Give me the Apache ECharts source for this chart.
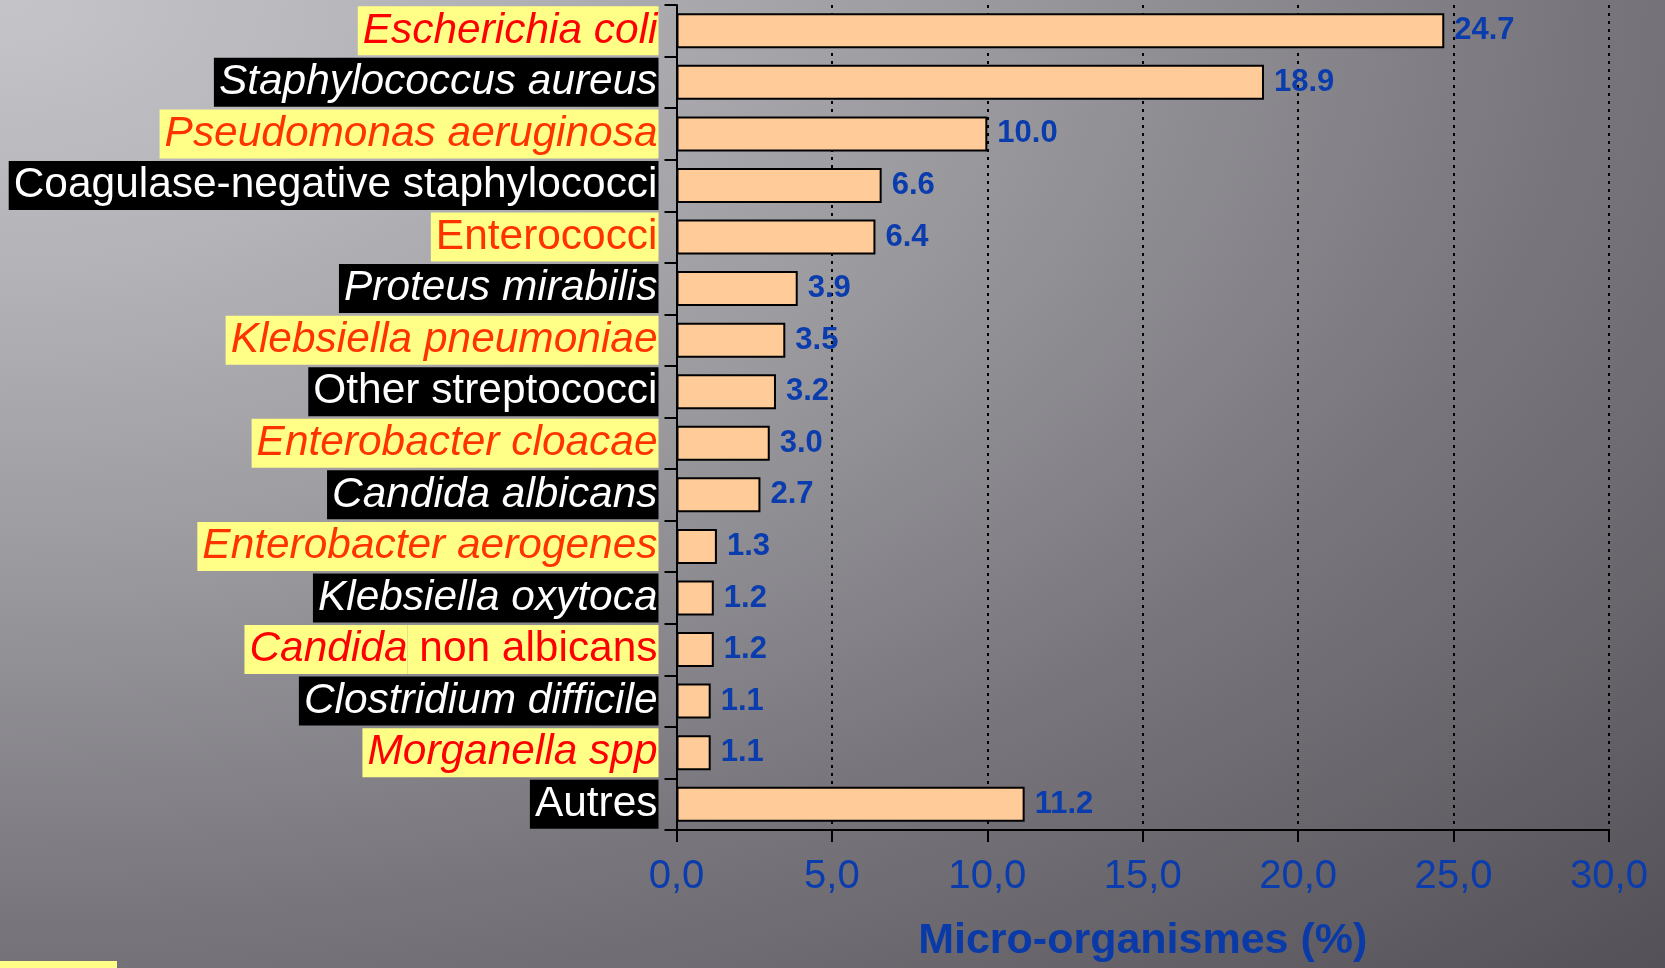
<!DOCTYPE html>
<html>
<head>
<meta charset="utf-8">
<script src="https://cdn.jsdelivr.net/npm/echarts@6/dist/echarts.min.js"></script>
<style>
html,body{margin:0;padding:0;width:1665px;height:968px;overflow:hidden;}
#chart{width:1665px;height:968px;}
</style>
</head>
<body>
<div id="chart"></div>
<script>
// ---------- data ----------
const categories = [
  'Escherichia coli',
  'Staphylococcus aureus',
  'Pseudomonas aeruginosa',
  'Coagulase-negative staphylococci',
  'Enterococci',
  'Proteus mirabilis',
  'Klebsiella pneumoniae',
  'Other streptococci',
  'Enterobacter cloacae',
  'Candida albicans',
  'Enterobacter aerogenes',
  'Klebsiella oxytoca',
  'Candida non albicans',
  'Clostridium difficile',
  'Morganella spp',
  'Autres'
];
const values = [24.7, 18.9, 10.0, 6.6, 6.4, 3.9, 3.5, 3.2, 3.0, 2.7, 1.3, 1.2, 1.2, 1.1, 1.1, 11.2];
const xTickLabels = ['0,0', '5,0', '10,0', '15,0', '20,0', '25,0', '30,0'];
const xAxisTitle = 'Micro-organismes (%)';

// ---------- label styling (kept apart from the data) ----------
const labelRich = {
  'Escherichia coli': [['yri', 'Escherichia coli']],
  'Staphylococcus aureus': [['bi', 'Staphylococcus aureus']],
  'Pseudomonas aeruginosa': [['yoi', 'Pseudomonas aeruginosa']],
  'Coagulase-negative staphylococci': [['bn', 'Coagulase-negative staphylococci']],
  'Enterococci': [['yon', 'Enterococci']],
  'Proteus mirabilis': [['bi', 'Proteus mirabilis']],
  'Klebsiella pneumoniae': [['yoi', 'Klebsiella pneumoniae']],
  'Other streptococci': [['bn', 'Other streptococci']],
  'Enterobacter cloacae': [['yoi', 'Enterobacter cloacae']],
  'Candida albicans': [['bi', 'Candida albicans']],
  'Enterobacter aerogenes': [['yoi', 'Enterobacter aerogenes']],
  'Klebsiella oxytoca': [['bi', 'Klebsiella oxytoca']],
  'Candida non albicans': [['yriL', 'Candida'], ['yrnR', ' non albicans']],
  'Clostridium difficile': [['bi', 'Clostridium difficile']],
  'Morganella spp': [['yri', 'Morganella spp']],
  'Autres': [['bn', 'Autres']]
};

const FAMILY = '"Liberation Sans", Arial, sans-serif';
const cvs = document.createElement('canvas');
const ctx = cvs.getContext('2d');
function fit(text, style, weight, target) {
  ctx.font = style + ' ' + weight + ' 100px ' + FAMILY;
  return 100 * target / ctx.measureText(text).width;
}
const catFont = fit('Coagulase-negative staphylococci', 'normal', 'normal', 644);
const tickFont = fit('10,0', 'normal', 'normal', 78);

const YEL = '#FFFF88', RED = '#FF0000', ORA = '#FF3300';
const boxH = 49;
function rs(bg, color, italic, pad) {
  return {
    backgroundColor: bg, color: color, fontStyle: italic ? 'italic' : 'normal',
    fontFamily: FAMILY, fontSize: catFont, height: boxH, lineHeight: boxH,
    padding: pad, verticalAlign: 'middle'
  };
}
const rich = {
  yri: rs(YEL, RED, true, [0, 1, 0, 5]),
  yoi: rs(YEL, ORA, true, [0, 1, 0, 5]),
  yon: rs(YEL, ORA, false, [0, 1, 0, 5]),
  bi: rs('#000', '#FFFFFF', true, [0, 1, 0, 5]),
  bn: rs('#000', '#FFFFFF', false, [0, 1, 0, 5]),
  yriL: rs(YEL, RED, true, [0, 0, 0, 5]),
  yrnR: rs(YEL, RED, false, [0, 1, 0, 0])
};

const W = 1665, H = 968;
const chart = echarts.init(document.getElementById('chart'), null, {renderer: 'canvas'});
const option = {
  backgroundColor: '#8a898e',
  animation: false,
  grid: {left: 676.5, right: 56, top: 5, bottom: 134, containLabel: false},
  xAxis: {
    type: 'value', min: 0, max: 30, interval: 5,
    axisLine: {show: true, lineStyle: {color: '#000', width: 2}},
    axisTick: {show: true, length: 12, lineStyle: {color: '#000', width: 2}},
    axisLabel: {
      margin: 27, color: '#0B3CAD', fontFamily: FAMILY, fontSize: tickFont,
      formatter: function (v) { return xTickLabels[Math.round(v / 5)]; }
    },
    splitLine: {show: true, lineStyle: {color: '#000', width: 2, type: [3, 5]}},
    name: xAxisTitle, nameLocation: 'middle', nameGap: 90,
    nameTextStyle: {color: '#0A3AA8', fontFamily: FAMILY, fontWeight: 'bold', fontSize: 43}
  },
  yAxis: {
    type: 'category', data: categories, inverse: true,
    axisLine: {show: true, lineStyle: {color: '#000', width: 2}},
    axisTick: {show: true, length: 12, lineStyle: {color: '#000', width: 2}},
    axisLabel: {
      margin: 18, interval: 0,
      formatter: function (v) {
        return labelRich[v].map(function (p) { return '{' + p[0] + '|' + p[1] + '}'; }).join('');
      },
      rich: rich
    },
    splitLine: {show: false}
  },
  series: [{
    type: 'bar', data: values, barWidth: 35,
    itemStyle: {color: '#FFCC99', borderColor: '#000', borderWidth: 2},
    label: {
      show: true, position: 'right', distance: 10,
      color: '#0B3CAD', fontFamily: FAMILY, fontWeight: 'bold', fontSize: 31,
      formatter: function (p) { return p.value.toFixed(1); }
    }
  }],
  graphic: [
    {
      type: 'rect', x: 0, y: 0, scaleX: W / H, scaleY: 1, z: -100, silent: true,
      shape: {x: 0, y: 0, width: H, height: H},
      style: {
        fill: new echarts.graphic.RadialGradient(0, 0, 1.42, [
          {offset: 0, color: '#c5c4c9'},
          {offset: 0.2, color: '#b3b2b7'},
          {offset: 0.41, color: '#9b9a9f'},
          {offset: 0.67, color: '#78767c'},
          {offset: 0.97, color: '#57535a'},
          {offset: 1, color: '#55515a'}
        ])
      }
    },
    {
      type: 'rect', left: 0, bottom: 0, z: 10, silent: true,
      shape: {width: 117, height: 7}, style: {fill: '#FFFF88'}
    }
  ]
};
chart.setOption(option);
</script>
</body>
</html>
